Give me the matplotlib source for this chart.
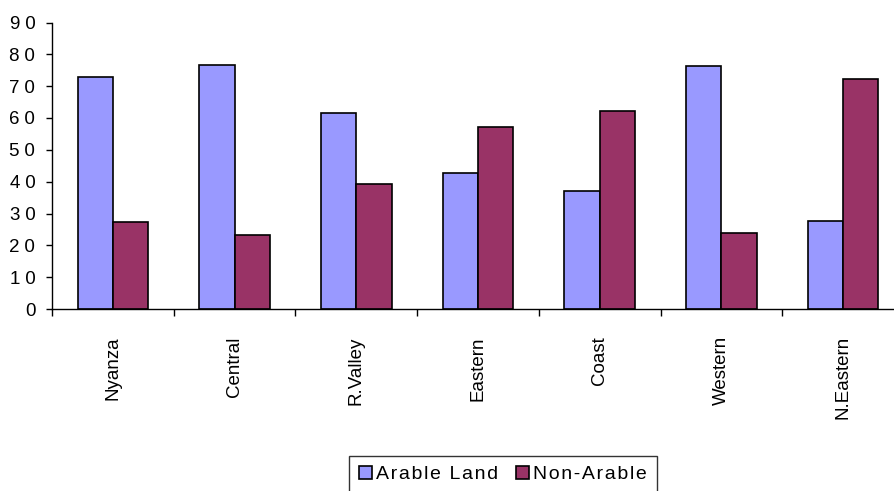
import matplotlib
import matplotlib.pyplot as plt
import numpy as np

matplotlib.use("Agg")

regions = ["Nyanza", "Central", "R.Valley", "Eastern", "Coast", "Western", "N.Eastern"]
arable = [72.8, 76.7, 61.6, 42.7, 37.2, 76.2, 27.8]
non_arable = [27.3, 23.4, 39.3, 57.3, 62.3, 24.0, 72.3]
y_ticks = list(range(0, 100, 10))

FONT = ["Liberation Sans", "DejaVu Sans"]
HAIR = "\u200a"


def spaced(text, n=1):
    # Excel-style loose letter spacing
    return (HAIR * n).join(text)


def main() -> None:
    plt.rcParams["font.family"] = FONT
    fig = plt.figure(figsize=(8.95, 4.91), dpi=100)
    ax = fig.add_axes([52 / 895, 182 / 491, 852 / 895, 286.5 / 491])

    x = np.arange(len(regions))
    w = 0.29
    ax.bar(x - w / 2, arable, w, color="#9999FF", edgecolor="black", linewidth=1.2,
           label=spaced("Arable Land"))
    ax.bar(x + w / 2, non_arable, w, color="#993366", edgecolor="black", linewidth=1.2,
           label=spaced("Non-Arable"))

    ax.set_xlim(-0.5, len(regions) - 0.5)
    ax.set_ylim(0, 90)
    ax.set_yticks(y_ticks)
    ax.set_yticklabels([spaced(str(v), 3) for v in y_ticks], fontsize=13.5)

    # boundary ticks between categories, labels centred under each pair
    ax.set_xticks(np.arange(-0.5, len(regions) + 0.5, 1.0))
    ax.set_xticklabels([])
    ax.tick_params(axis="x", direction="out", length=5, width=1)
    ax.tick_params(axis="y", direction="out", length=4, width=1, pad=8)
    for xi, name in zip(x, regions):
        ax.text(xi, -0.095, name, transform=ax.get_xaxis_transform(), rotation=90,
                ha="center", va="top", fontsize=13.5)

    for side in ("top", "right"):
        ax.spines[side].set_visible(False)
    for side in ("left", "bottom"):
        ax.spines[side].set_linewidth(1)

    leg = fig.legend(loc="upper left", bbox_to_anchor=(349 / 895, 1 - 456 / 491),
                     ncol=2, fontsize=14, frameon=True, fancybox=False,
                     handlelength=0.7, handleheight=0.7, handletextpad=0.2,
                     columnspacing=0.9, borderpad=0.5, borderaxespad=0)
    leg.get_frame().set_edgecolor("black")
    leg.get_frame().set_linewidth(1)

    fig.savefig("out.png", dpi=100)
    plt.close(fig)


if __name__ == "__main__":
    main()
